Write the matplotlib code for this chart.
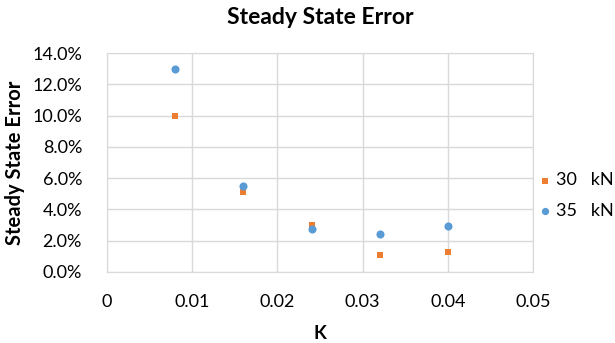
import matplotlib
matplotlib.use("Agg")
import matplotlib.pyplot as plt
from matplotlib.ticker import PercentFormatter

plt.rcParams['font.family'] = ['Lato', 'DejaVu Sans']

k_values = [0.008, 0.016, 0.024, 0.032, 0.040]
err_30kN = [10.0, 5.1, 3.0, 1.1, 1.3]
err_35kN = [13.0, 5.5, 2.75, 2.45, 2.95]
series_labels = ["30   kN", "35   kN"]
x_ticks = [0, 0.01, 0.02, 0.03, 0.04, 0.05]
x_tick_labels = ["0", "0.01", "0.02", "0.03", "0.04", "0.05"]
y_ticks = [0, 2, 4, 6, 8, 10, 12, 14]

fig = plt.figure(figsize=(6.15, 3.43), dpi=100)
ax = fig.add_axes([0.174, 0.207, 0.693, 0.638])

grid_c = '#d9d9d9'
ax.scatter(k_values, err_30kN, marker='s', s=24, color='#ed7d31', label=series_labels[0], zorder=3, linewidths=0)
ax.scatter(k_values, err_35kN, marker='o', s=34, color='#5b9bd5', label=series_labels[1], zorder=3, linewidths=0)

ax.set_xlim(0, 0.05)
ax.set_ylim(0, 14)
ax.set_xticks(x_ticks)
ax.set_xticklabels(x_tick_labels)
ax.set_yticks(y_ticks)
ax.yaxis.set_major_formatter(PercentFormatter(decimals=1))
ax.grid(True, color=grid_c, linewidth=1)
ax.set_axisbelow(True)
for s in ax.spines.values():
    s.set_color(grid_c)
ax.tick_params(length=0, labelsize=13, colors='#000000')
ax.tick_params(axis='x', pad=16)
ax.tick_params(axis='y', pad=18)

ax.set_title("Steady State Error", fontsize=16.5, fontweight='bold', pad=21)
ax.set_xlabel("K", fontsize=13.5, fontweight='bold', labelpad=11)
ax.set_ylabel("Steady State Error", fontsize=14.5, fontweight='bold', labelpad=5)

leg = fig.legend(loc='center left', bbox_to_anchor=(0.848, 0.43), frameon=False,
                 fontsize=13, handletextpad=0.2, labelspacing=0.8,
                 handlelength=0.8, markerscale=0.9)

fig.savefig("out.png", dpi=100)
